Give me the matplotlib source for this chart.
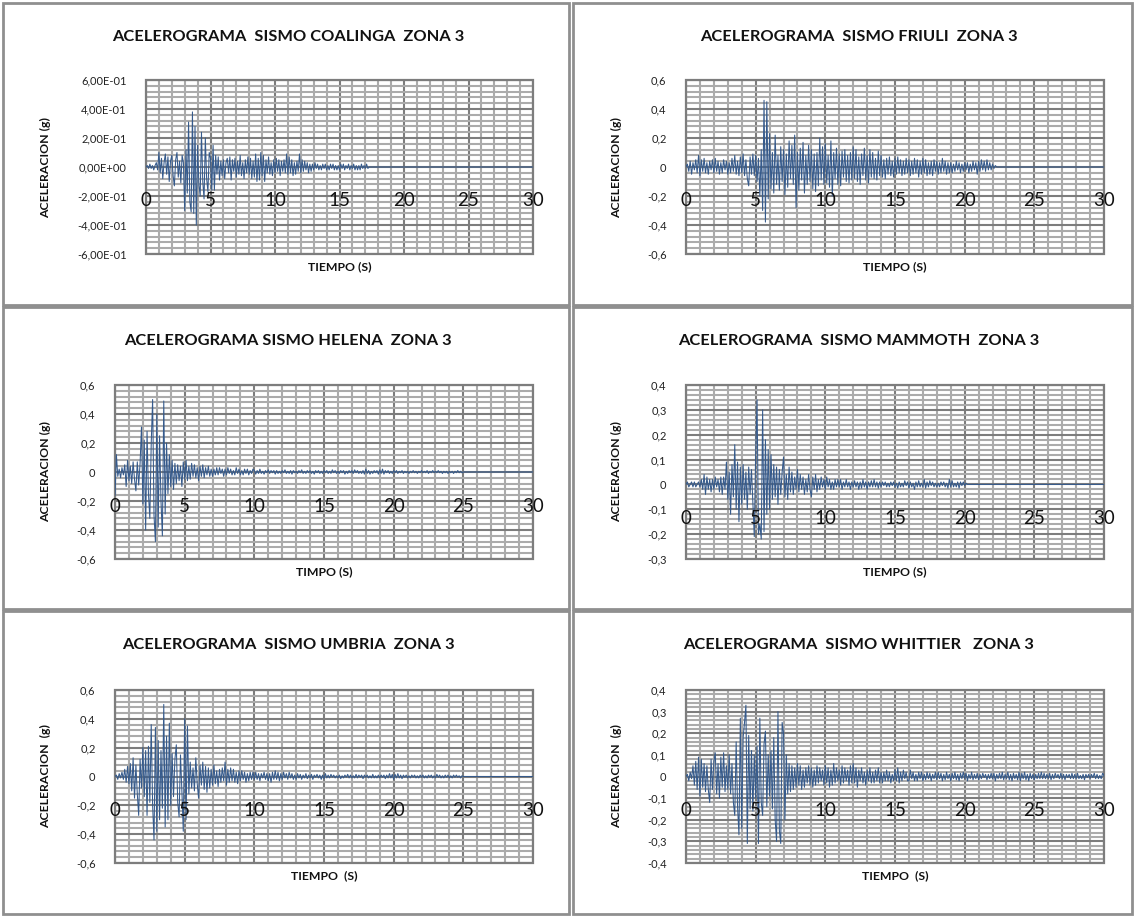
import numpy as np
import matplotlib
matplotlib.use("Agg")
import matplotlib.pyplot as plt
from matplotlib.patches import Rectangle
from matplotlib.ticker import MultipleLocator, FuncFormatter
from matplotlib.transforms import ScaledTranslation

plt.rcParams["font.family"] = ["Lato", "DejaVu Sans"]

DT = 0.1
RECORD_END = 30.0

coalinga = [
    0.00, 0.01, -0.01, 0.02, -0.01, 0.01, -0.02, 0.01, 0.03, -0.02,
    0.10, -0.04, 0.06, -0.08, 0.03, 0.09, -0.05, 0.07, -0.10, 0.04,
    0.08, -0.06, -0.13, 0.05, 0.10, -0.07, 0.04, -0.11, 0.08, 0.03,
    -0.30, 0.12, -0.18, 0.31, -0.24, -0.31, 0.38, -0.32, 0.28, -0.40,
    0.15, -0.12, -0.20, 0.24, -0.10, -0.22, 0.20, -0.08, -0.17, 0.10,
    0.06, -0.16, 0.15, -0.16, 0.08, -0.05, 0.07, -0.09, 0.04, -0.06,
    0.05, -0.08, 0.03, 0.06, -0.04, 0.07, -0.09, 0.05, -0.03, 0.06,
    -0.07, 0.04, -0.05, 0.08, -0.06, 0.03, -0.08, 0.05, -0.04, 0.07,
    -0.05, 0.06, -0.08, 0.04, -0.07, 0.09, -0.10, 0.06, -0.09, 0.10,
    -0.06, 0.08, -0.10, 0.05, -0.04, 0.07, -0.05, 0.03, -0.06, 0.05,
    -0.04, 0.06, -0.03, 0.05, -0.06, 0.04, -0.03, 0.05, -0.04, 0.09,
    -0.05, 0.07, -0.04, 0.05, -0.06, 0.03, -0.05, 0.04, -0.03, 0.09,
    -0.04, 0.05, -0.03, 0.04, -0.02, 0.03, -0.04, 0.02, -0.03, 0.02,
    -0.02, 0.03, -0.01, 0.02, -0.02, 0.01, -0.02, 0.02, -0.01, 0.02,
    -0.02, 0.01, -0.02, 0.02, -0.01, 0.02, -0.02, 0.01, -0.02, 0.01,
    -0.02, 0.02, -0.01, 0.02, -0.02, 0.01, -0.01, 0.02, -0.02, 0.01,
    -0.01, 0.02, -0.02, 0.01, -0.02, 0.01, -0.02, 0.02, -0.01, 0.01,
    -0.01, 0.02, -0.01, 0.00,
]

friuli = [
    0.00, 0.02, -0.03, 0.04, -0.05, 0.03, -0.02, 0.05, -0.04, 0.08,
    -0.06, 0.05, -0.03, 0.06, -0.04, 0.03, -0.05, 0.04, -0.02, 0.05,
    -0.04, 0.06, -0.03, 0.04, -0.05, 0.03, -0.04, 0.05, -0.02, 0.04,
    -0.05, 0.03, -0.04, 0.06, -0.03, 0.08, -0.05, 0.04, -0.06, 0.07,
    -0.04, 0.09, -0.06, 0.05, -0.08, -0.13, 0.07, -0.05, 0.09, -0.06,
    0.08, -0.10, 0.06, -0.20, 0.12, -0.30, 0.46, -0.38, 0.45, -0.22,
    0.23, -0.15, 0.10, -0.18, 0.22, -0.12, 0.08, -0.16, 0.14, -0.10,
    0.12, -0.19, 0.09, -0.14, 0.18, -0.08, 0.15, -0.12, 0.22, -0.28,
    0.10, -0.16, 0.13, -0.09, 0.17, -0.18, 0.08, -0.12, 0.15, -0.10,
    0.12, -0.15, 0.09, -0.17, 0.10, -0.13, 0.20, -0.09, 0.14, -0.12,
    0.16, -0.11, 0.08, -0.14, 0.18, -0.20, 0.10, -0.08, 0.13, -0.12,
    0.09, -0.13, 0.11, -0.07, 0.12, -0.10, 0.08, -0.11, 0.10, -0.09,
    0.14, -0.08, 0.12, -0.10, 0.07, -0.12, 0.09, -0.06, 0.13, -0.09,
    0.08, -0.11, 0.12, -0.07, 0.10, -0.08, 0.06, -0.09, 0.11, -0.06,
    0.08, -0.07, 0.05, -0.08, 0.06, -0.05, 0.07, -0.06, 0.04, -0.07,
    0.06, -0.05, 0.07, -0.04, 0.05, -0.06, 0.04, -0.05, 0.06, -0.04,
    0.05, -0.06, 0.04, -0.05, 0.06, -0.04, 0.05, -0.07, 0.04, -0.05,
    0.06, -0.04, 0.05, -0.06, 0.03, -0.05, 0.04, -0.06, 0.05, -0.03,
    0.04, -0.05, 0.03, -0.04, 0.06, -0.03, 0.04, -0.05, 0.03, -0.04,
    0.03, -0.04, 0.02, -0.03, 0.04, -0.02, 0.03, -0.04, 0.02, -0.03,
    0.03, -0.02, 0.03, -0.04, 0.02, -0.03, 0.04, -0.02, 0.03, -0.05,
    0.04, -0.03, 0.05, -0.02, 0.04, -0.03, 0.05, -0.02, 0.03, -0.02,
    0.02, -0.01, 0.01, 0.00,
]

helena = [
    -0.16, 0.12, -0.03, 0.02, -0.04, 0.03, -0.02, 0.05, -0.10, 0.08,
    -0.06, 0.04, -0.08, 0.07, -0.05, -0.13, 0.07, -0.09, 0.06, 0.31,
    -0.22, 0.22, -0.40, 0.28, -0.15, -0.32, 0.20, 0.50, -0.30, -0.48,
    0.40, -0.38, 0.25, -0.20, -0.44, 0.49, -0.29, 0.20, -0.15, 0.12,
    -0.10, 0.08, -0.12, 0.06, -0.08, 0.05, -0.06, 0.04, -0.10, 0.07,
    -0.05, 0.08, -0.06, 0.04, -0.05, 0.06, -0.03, 0.05, -0.04, 0.03,
    -0.06, 0.04, -0.03, 0.05, -0.04, 0.03, -0.02, 0.04, -0.03, 0.02,
    -0.03, 0.02, -0.02, 0.03, -0.02, 0.03, -0.01, 0.02, -0.03, 0.02,
    -0.02, 0.03, -0.01, 0.02, -0.02, 0.01, -0.02, 0.03, -0.01, 0.02,
    -0.02, 0.01, -0.02, 0.02, -0.01, 0.02, -0.02, 0.01, -0.01, 0.02,
    .01, -.015, .01, -.01, .02, -.01, .005, -.015, .01, -.005,
    .015, -.01, .01, -.005, .01, -.015, .01, -.01, .005, -.01,
    .01, -.005, .015, -.01, .005, -.01, .01, -.015, .01, -.005,
    .005, -.01, .01, -.005, .015, -.01, .005, -.01, .01, -.005,
    .01, -.01, .005, -.015, .01, -.005, .01, -.01, .005, -.01,
    .01, -.005, .01, -.01, .005, -.01, .015, -.005, .01, -.01,
    .005, -.01, .01, -.005, .01, -.015, .005, -.01, .01, -.005,
    .01, -.01, .015, -.005, .01, -.01, .005, -.01, .01, -.015,
    .02, -.01, .01, -.015, .005, -.01, .01, -.005, .01, -.015,
    .015, -.01, .02, -.015, .01, -.005, .01, -.01, .005, -.01,
    .01, -.005, .01, -.01, .005, -.005, .01, -.01, .005, -.005,
    .005, -.01, .005, -.005, .01, -.005, .005, -.01, .005, -.005,
    .01, -.005, .005, -.005, .01, -.01, .005, -.005, .01, -.005,
    .005, -.005, .01, -.005, .005, -.01, .005, -.005, .005, -.01,
    .005, -.005, .005, -.01, .005, -.005, .01, -.005, .005, -.005,
    0.0,
]

mammoth = [
    0.00, 0.01, -0.01, 0.00, 0.01, -0.01, 0.01, -0.01, 0.00, 0.01,
    -0.01, 0.02, -0.02, 0.04, -0.04, 0.03, -0.02, 0.02, -0.03, 0.02,
    -0.02, 0.03, -0.01, 0.02, -0.03, 0.03, -0.04, 0.03, -0.02, 0.09,
    -0.06, 0.05, -0.12, 0.08, -0.05, 0.16, -0.10, 0.09, -0.15, 0.07,
    -0.08, 0.08, -0.06, 0.05, -0.10, 0.07, -0.04, 0.06, -0.08, -0.21,
    0.12, 0.34, -0.20, -0.16, -0.22, 0.30, -0.19, 0.18, -0.12, 0.14,
    -0.10, 0.12, -0.06, 0.08, -0.05, 0.07, -0.08, 0.06, -0.04, 0.05,
    0.11, -0.05, 0.04, -0.06, 0.07, -0.03, 0.05, -0.04, 0.03, -0.02,
    0.06, -0.03, 0.04, -0.02, 0.03, -0.04, 0.02, -0.03, 0.04, -0.02,
    -0.05, 0.03, -0.02, 0.04, -0.03, 0.02, -0.02, 0.03, -0.01, 0.02,
    -0.02, 0.03, -0.01, 0.02, -0.02, 0.01, -0.02, 0.02, -0.01, 0.02,
    -0.01, 0.02, -0.02, 0.01, -0.01, 0.02, -0.01, 0.01, -0.02, 0.01,
    -.01, .015, -.01, .01, -.02, .01, -.015, .02, -.01, .01,
    -.02, .01, -.01, .015, -.01, .02, -.01, .01, -.015, .01,
    -.01, .01, -.005, .01, -.01, .005, -.01, .01, -.005, .01,
    -.01, .005, -.015, .01, -.01, .005, -.01, .015, -.005, .01,
    -.015, .01, -.01, .005, -.02, .01, -.01, .015, -.01, .005,
    -.01, .02, -.015, .01, -.01, .015, -.005, .01, -.01, .005,
    -.01, .005, -.01, .01, -.005, .01, -.01, .005, -.015, .02,
    -.01, .015, -.01, .005, -.01, .01, -.015, .01, -.005, .01,
    -.005, .005, 0.0,
]

umbria = [
    0.00, 0.01, -0.02, 0.02, -0.01, 0.03, -0.02, 0.05, -0.04, 0.07,
    -0.05, 0.09, -0.10, 0.13, -0.15, 0.08, -0.12, -0.27, 0.12, -0.08,
    0.20, -0.14, 0.18, -0.27, 0.21, -0.18, 0.36, -0.20, -0.44, 0.34,
    -0.38, 0.25, -0.30, 0.18, -0.22, 0.50, -0.35, 0.28, -0.30, 0.37,
    -0.20, 0.16, -0.14, 0.12, 0.22, -0.18, -0.28, 0.15, -0.10, -0.38,
    0.40, -0.30, 0.35, -0.12, 0.10, -0.08, 0.06, -0.10, 0.13, -0.05,
    -0.15, 0.08, -0.06, 0.10, -0.09, 0.07, -0.11, 0.06, -0.08, 0.05,
    -0.06, 0.08, -0.05, 0.04, -0.07, 0.05, -0.04, 0.06, -0.03, 0.10,
    -0.06, 0.05, -0.04, 0.06, -0.03, 0.05, -0.04, 0.03, -0.05, 0.04,
    -0.03, 0.04, -0.02, 0.03, -0.04, 0.02, -0.03, 0.03, -0.02, 0.03,
    -0.02, 0.03, -0.02, 0.02, -0.03, 0.02, -0.01, 0.03, -0.02, 0.02,
    -0.03, 0.02, -0.04, 0.03, -0.02, 0.04, -0.02, 0.03, -0.03, 0.02,
    -0.02, 0.03, -0.01, 0.02, -0.02, 0.03, -0.01, 0.02, -0.02, 0.01,
    -.02, .02, -.01, .015, -.02, .01, -.01, .02, -.015, .01,
    -.01, .015, -.02, .01, -.005, .015, -.01, .01, -.02, .01,
    -.015, .02, -.01, .01, -.01, .015, -.005, .01, -.01, .005,
    -.01, .01, -.015, .005, -.01, .01, -.005, .015, -.01, .01,
    -.01, .005, -.01, .015, -.01, .01, -.005, .01, -.015, .01,
    -.005, .01, -.01, .005, -.01, .015, -.01, .005, -.01, .01,
    -.01, .01, -.005, .01, -.015, .01, -.01, .02, -.01, .015,
    -.02, .015, -.01, .02, -.01, .01, -.015, .01, -.005, .01,
    -.01, .005, -.01, .01, -.005, .01, -.01, .005, -.01, .01,
    -.005, .01, -.01, .005, -.01, .01, -.005, .01, -.01, .005,
    -.01, .015, -.005, .01, -.01, .005, -.01, .01, -.005, .01,
    -.01, .005, -.01, .01, -.005, .01, -.005, .005, -.01, .005,
    0.0,
]

whittier = [
    0.00, 0.01, -0.02, 0.02, -0.01, 0.05, -0.04, 0.07, -0.06, 0.09,
    -0.09, 0.08, -0.05, 0.06, -0.07, 0.05, -0.06, -0.12, 0.08, -0.06,
    0.07, 0.11, -0.08, 0.06, -0.10, 0.09, -0.05, 0.11, -0.07, 0.05,
    -0.06, 0.10, -0.08, 0.06, -0.12, -0.18, 0.16, -0.14, -0.27, 0.27,
    -0.24, 0.18, 0.25, 0.33, -0.31, 0.19, -0.15, 0.12, -0.16, 0.10,
    -0.10, 0.14, -0.31, 0.27, -0.12, -0.18, 0.15, 0.21, -0.14, 0.10,
    -0.09, 0.12, -0.15, 0.18, -0.20, -0.30, 0.30, -0.25, -0.31, 0.25,
    0.20, -0.20, 0.10, -0.08, 0.06, -0.07, 0.05, -0.06, 0.04, -0.05,
    0.06, -0.04, 0.05, -0.06, 0.03, -0.05, 0.04, -0.03, 0.05, -0.04,
    0.04, -0.05, 0.03, -0.04, 0.05, -0.03, 0.04, -0.02, 0.03, -0.04,
    0.05, -0.03, 0.04, -0.05, 0.03, -0.04, 0.06, -0.03, 0.04, -0.02,
    0.03, -0.04, 0.05, -0.03, 0.04, -0.02, 0.03, -0.04, 0.05, -0.03,
    0.06, -0.03, 0.04, -0.05, 0.03, -0.02, 0.04, -0.03, 0.02, -0.04,
    0.03, -0.02, 0.04, -0.03, 0.02, -0.03, 0.03, -0.02, 0.04, -0.03,
    0.02, -0.03, 0.02, -0.02, 0.03, -0.02, 0.02, -0.03, 0.01, -0.02,
    0.03, -0.02, 0.04, -0.03, 0.02, -0.02, 0.03, -0.01, 0.02, -0.02,
    -.02, .03, -.01, .02, -.02, .01, -.02, .02, -.01, .02,
    -.02, .01, -.015, .02, -.01, .015, -.02, .01, -.01, .02,
    -.015, .02, -.01, .015, -.02, .01, -.015, .02, -.01, .01,
    -.02, .015, -.01, .02, -.015, .01, -.02, .015, -.01, .02,
    -.01, .015, -.02, .01, -.01, .02, -.015, .01, -.01, .015,
    -.015, .01, -.01, .015, -.005, .01, -.015, .01, -.01, .015,
    -.01, .015, -.02, .01, -.01, .015, -.01, .02, -.015, .01,
    -.01, .02, -.015, .01, -.02, .015, -.01, .01, -.015, .02,
    -.02, .015, -.01, .02, -.015, .01, -.02, .015, -.01, .01,
    -.015, .01, -.01, .015, -.01, .02, -.01, .015, -.01, .01,
    -.01, .015, -.015, .01, -.01, .015, -.005, .01, -.01, .015,
    -.01, .01, -.015, .01, -.005, .01, -.01, .015, -.01, .01,
    -.01, .015, -.01, .005, -.01, .01, -.015, .01, -.005, .01,
    -.01, .01, -.005, .015, -.01, .01, -.01, .005, -.01, .015,
    .005,
]

records = [coalinga, friuli, helena, mammoth, umbria, whittier]
titles = [
    "ACELEROGRAMA  SISMO COALINGA  ZONA 3",
    "ACELEROGRAMA  SISMO FRIULI  ZONA 3",
    "ACELEROGRAMA SISMO HELENA  ZONA 3",
    "ACELEROGRAMA  SISMO MAMMOTH  ZONA 3",
    "ACELEROGRAMA  SISMO UMBRIA  ZONA 3",
    "ACELEROGRAMA  SISMO WHITTIER   ZONA 3",
]
xlabels = ["TIEMPO (S)", "TIEMPO (S)", "TIMPO (S)", "TIEMPO (S)",
           "TIEMPO  (S)", "TIEMPO  (S)"]
ylabels = ["ACELERACION (g)", "ACELERACION (g)", "ACELERACION (g)",
           "ACELERACION (g)", "ACELERACION  (g)", "ACELERACION  (g)"]
xticks = [0, 5, 10, 15, 20, 25, 30]
ylims = [(-0.6, 0.6), (-0.6, 0.6), (-0.6, 0.6), (-0.3, 0.4), (-0.6, 0.6), (-0.4, 0.4)]
ysteps = [0.2, 0.2, 0.2, 0.1, 0.2, 0.1]
sci_fmt = [True, False, False, False, False, False]

# ---- layout (pixels in a 1134x916 canvas) ----
W, H = 1134, 916
boxes = [(146, 533, 80, 254), (686, 1104, 80, 254),
         (115, 533, 385, 559), (686, 1104, 385, 559),
         (115, 533, 690, 863), (686, 1104, 690, 863)]
panels = [(3, 569, 3, 305), (573, 1132, 3, 305),
          (3, 569, 307, 609), (573, 1132, 307, 609),
          (3, 569, 611, 914), (573, 1132, 611, 914)]
title_y = [37, 37, 341, 341, 645, 645]
title_x = [288, 859]
ylab_x = [46, 617]

LINE = "#355a8c"
MAJ = "#7d7d7d"
MIN = "#ababab"

fig = plt.figure(figsize=(W / 100, H / 100), dpi=100)

for (x0, x1, y0, y1) in panels:
    fig.add_artist(Rectangle((x0 / W, 1 - y1 / H), (x1 - x0) / W, (y1 - y0) / H,
                             transform=fig.transFigure, fill=False,
                             ec="#8f8f8f", lw=2))


def yfmt(sci):
    def f(v, pos):
        v = round(v, 4)
        if sci:
            return f"{v:.2E}".replace(".", ",")
        if abs(v) < 1e-9:
            return "0"
        return f"{v:g}".replace(".", ",")
    return f


for i, acc in enumerate(records):
    l, r, t, b = boxes[i]
    ax = fig.add_axes([l / W, 1 - b / H, (r - l) / W, (b - t) / H])
    acc = np.asarray(acc, dtype=float)
    time = np.arange(len(acc)) * DT
    # record is zero after the last sample up to the end of the axis
    time = np.append(time, RECORD_END)
    acc = np.append(acc, 0.0)
    ax.plot(time, acc, color=LINE, lw=0.75, zorder=3)

    lo, hi = ylims[i]
    step = ysteps[i]
    ax.set_xlim(0, 30)
    ax.set_ylim(lo, hi)
    ax.xaxis.set_major_locator(MultipleLocator(5))
    ax.xaxis.set_minor_locator(MultipleLocator(1))
    ax.yaxis.set_major_locator(MultipleLocator(step))
    ax.yaxis.set_minor_locator(MultipleLocator(step / 5))
    ax.grid(which="minor", color=MIN, lw=1.5, zorder=0)
    ax.grid(which="major", color=MAJ, lw=1.5, zorder=1)
    ax.set_axisbelow(True)

    for s in ax.spines.values():
        s.set_visible(False)
    ax.add_patch(Rectangle((0, 0), 1, 1, transform=ax.transAxes, fill=False,
                           ec=MAJ, lw=1.6, clip_on=False, zorder=2))

    ax.yaxis.set_major_formatter(FuncFormatter(yfmt(sci_fmt[i])))
    ax.tick_params(axis="y", which="both", length=0, pad=14, labelsize=8,
                   labelcolor="#222222")
    ax.tick_params(axis="x", which="both", length=0, labelbottom=False)

    # time labels sit next to the horizontal axis, which crosses at zero
    off = ScaledTranslation(0, -34 / 100, fig.dpi_scale_trans)
    for xv in xticks:
        ax.text(xv, 0, str(xv), transform=ax.transData + off, ha="center",
                va="center", fontsize=13.5, color="#111111", zorder=6,
                clip_on=False)

    col = i % 2
    fig.text(title_x[col] / W, 1 - title_y[i] / H, titles[i], ha="center",
             va="center", fontsize=11.8, fontweight="bold", color="#111111")
    fig.text((l + r) / 2 / W, 1 - (b + 13) / H, xlabels[i], ha="center",
             va="center", fontsize=8.8, fontweight="bold", color="#111111")
    fig.text(ylab_x[col] / W, 1 - (t + b) / 2 / H, ylabels[i], ha="center",
             va="center", rotation=90, fontsize=8.8, fontweight="bold",
             color="#111111")

fig.savefig("out.png", dpi=100, facecolor="white")
